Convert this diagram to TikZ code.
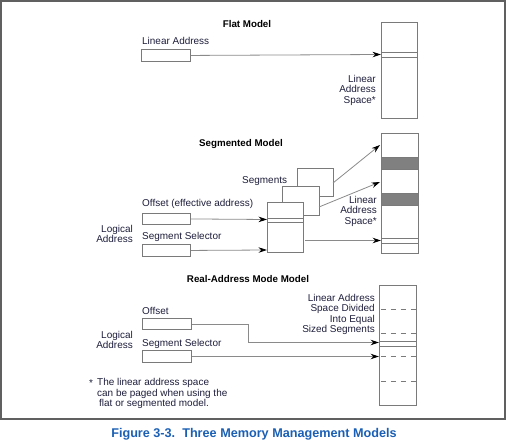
\documentclass[tikz,border=0pt]{standalone}
\usepackage{fontspec}
\setmainfont{Liberation Sans}
\usetikzlibrary{arrows.meta}
\definecolor{txt}{HTML}{1E1E3C}
\definecolor{boxc}{HTML}{7A7A7A}
\definecolor{linec}{HTML}{8A8A8A}
\definecolor{band}{HTML}{808080}
\definecolor{capblue}{HTML}{1A5FB4}
\definecolor{frame}{HTML}{606060}
\tikzset{
  lbl/.style={text=txt,font=\fontsize{10}{10.5}\selectfont,inner sep=0pt},
  ttl/.style={text=black,font=\bfseries\fontsize{9.8}{10.5}\selectfont,inner sep=0pt,anchor=base},
  regbox/.style={draw=boxc,line width=0.9pt,fill=white,inner sep=0pt},
  mem/.style={draw=boxc,line width=1.1pt,fill=white,inner sep=0pt},
  arr/.style={draw=linec,line width=0.8pt,-{Stealth[length=8.5pt,width=5.5pt,color=black]}},
  plain/.style={draw=linec,line width=0.8pt},
  div/.style={draw=boxc,line width=0.8pt},
  dsh/.style={draw=boxc,line width=0.8pt,dash pattern=on 5pt off 5pt}
}
\begin{document}
\begin{tikzpicture}[x=1bp,y=-1bp]
\useasboundingbox (0,0) rectangle (507,442);
% frame
\draw[frame,line width=1.4pt] (1,1) rectangle (505,419);

% ---------- Flat model ----------
\node[ttl] (tflat) at (247,28) {Flat Model};
\node[lbl,anchor=base west] (lflat) at (142,44.5) {Linear Address};
\node[regbox,minimum width=49bp,minimum height=12bp,anchor=north west] (bflat) at (141,49) {};
\node[mem,minimum width=36bp,minimum height=96bp,anchor=north west] (mflat) at (381,22) {};
\draw[div] (381,52) -- (417,52);
\draw[div] (381,57) -- (417,57);
\coordinate (fin) at (381,54.5);
\draw[arr] (bflat.east) -- (fin);
\node[lbl,anchor=north east,align=right] (sflat) at (376,75) {Linear\\Address\\Space*};

% ---------- Segmented model ----------
\node[ttl] (tseg) at (241,147) {Segmented Model};
\node[mem,minimum width=37bp,minimum height=120bp,anchor=north west] (mseg) at (381,133) {};
\fill[band,draw=boxc,line width=0.8pt] (381,157) rectangle (418,169);
\fill[band,draw=boxc,line width=0.8pt] (381,193) rectangle (418,205);
\draw[div] (381,238) -- (418,238);
\draw[div] (381,243) -- (418,243);
\node[regbox,minimum width=36bp,minimum height=28bp,anchor=north west] (sg3) at (297,168) {};
\node[regbox,minimum width=37bp,minimum height=29bp,anchor=north west] (sg2) at (282,186) {};
\node[regbox,minimum width=36bp,minimum height=50bp,anchor=north west] (sg1) at (267,202) {};
\draw[div] (267,218) -- (303,218);
\draw[div] (267,222) -- (303,222);
\node[lbl,anchor=base west] (lsegs) at (242,184) {Segments};
\node[lbl,anchor=base west] (loff) at (142,207) {Offset (effective address)};
\node[regbox,minimum width=48bp,minimum height=11bp,anchor=north west] (boff) at (142,213) {};
\node[lbl,anchor=base west] (lsel) at (142,240) {Segment Selector};
\node[regbox,minimum width=48bp,minimum height=12bp,anchor=north west] (bsel) at (142,244) {};
\node[lbl,anchor=north east,align=right] (llog) at (133,225) {Logical\\Address};
\node[lbl,anchor=north east,align=right] (sseg) at (377,196) {Linear\\Address\\Space*};
\coordinate (o1) at (267,219.5);
\coordinate (s1) at (267,250);
\draw[arr] (boff.east) -- (o1);
\draw[arr] (bsel.east) -- (s1);
\coordinate (a1s) at (333,183);
\coordinate (a1e) at (380,145);
\coordinate (a2s) at (319,207);
\coordinate (a2e) at (380,182);
\coordinate (a3s) at (305,240.5);
\coordinate (a3e) at (381,240.5);
\draw[arr] (a1s) -- (a1e);
\draw[arr] (a2s) -- (a2e);
\draw[arr] (a3s) -- (a3e);

% ---------- Real-address mode ----------
\node[ttl] (treal) at (248,282) {Real-Address Mode Model};
\node[mem,minimum width=37bp,minimum height=120bp,anchor=north west] (mreal) at (379,285) {};
\draw[dsh] (381,309) -- (416,309);
\draw[dsh] (381,333) -- (416,333);
\draw[dsh] (381,356) -- (416,356);
\draw[dsh] (381,381) -- (416,381);
\draw[div] (379,341) -- (416,341);
\draw[div] (379,346) -- (416,346);
\node[lbl,anchor=north east,align=right] (sreal) at (375,294) {Linear Address\\Space Divided\\Into Equal\\Sized Segments};
\node[lbl,anchor=base west] (roff) at (142,314) {Offset};
\node[regbox,minimum width=49bp,minimum height=11bp,anchor=north west] (rboff) at (142,318) {};
\node[lbl,anchor=base west] (rsel) at (142,346) {Segment Selector};
\node[regbox,minimum width=49bp,minimum height=12bp,anchor=north west] (rbsel) at (142,350) {};
\node[lbl,anchor=north east,align=right] (rlog) at (133,331) {Logical\\Address};
\coordinate (rbend) at (248,342.5);
\coordinate (roe) at (379,342.5);
\coordinate (rse) at (379,356.5);
\draw[plain] (rboff.east) -| (rbend);
\draw[arr] (rbend) -- (roe);
\draw[arr] (rbsel.east) -- (rse);

% footnote
\node[lbl,anchor=base west] (star) at (89,386) {*};
\node[lbl,anchor=north west,align=left] (fn) at (97,378.5) {The linear address space\\\hspace*{0pt}can be paged when using the\\\hspace*{2bp}flat or segmented model.};

% caption
\node[text=capblue,font=\bfseries\fontsize{12.7}{14}\selectfont,inner sep=0pt,anchor=base] (cap) at (254,437) {Figure 3-3.\ \ Three Memory Management Models};
\end{tikzpicture}
\end{document}
